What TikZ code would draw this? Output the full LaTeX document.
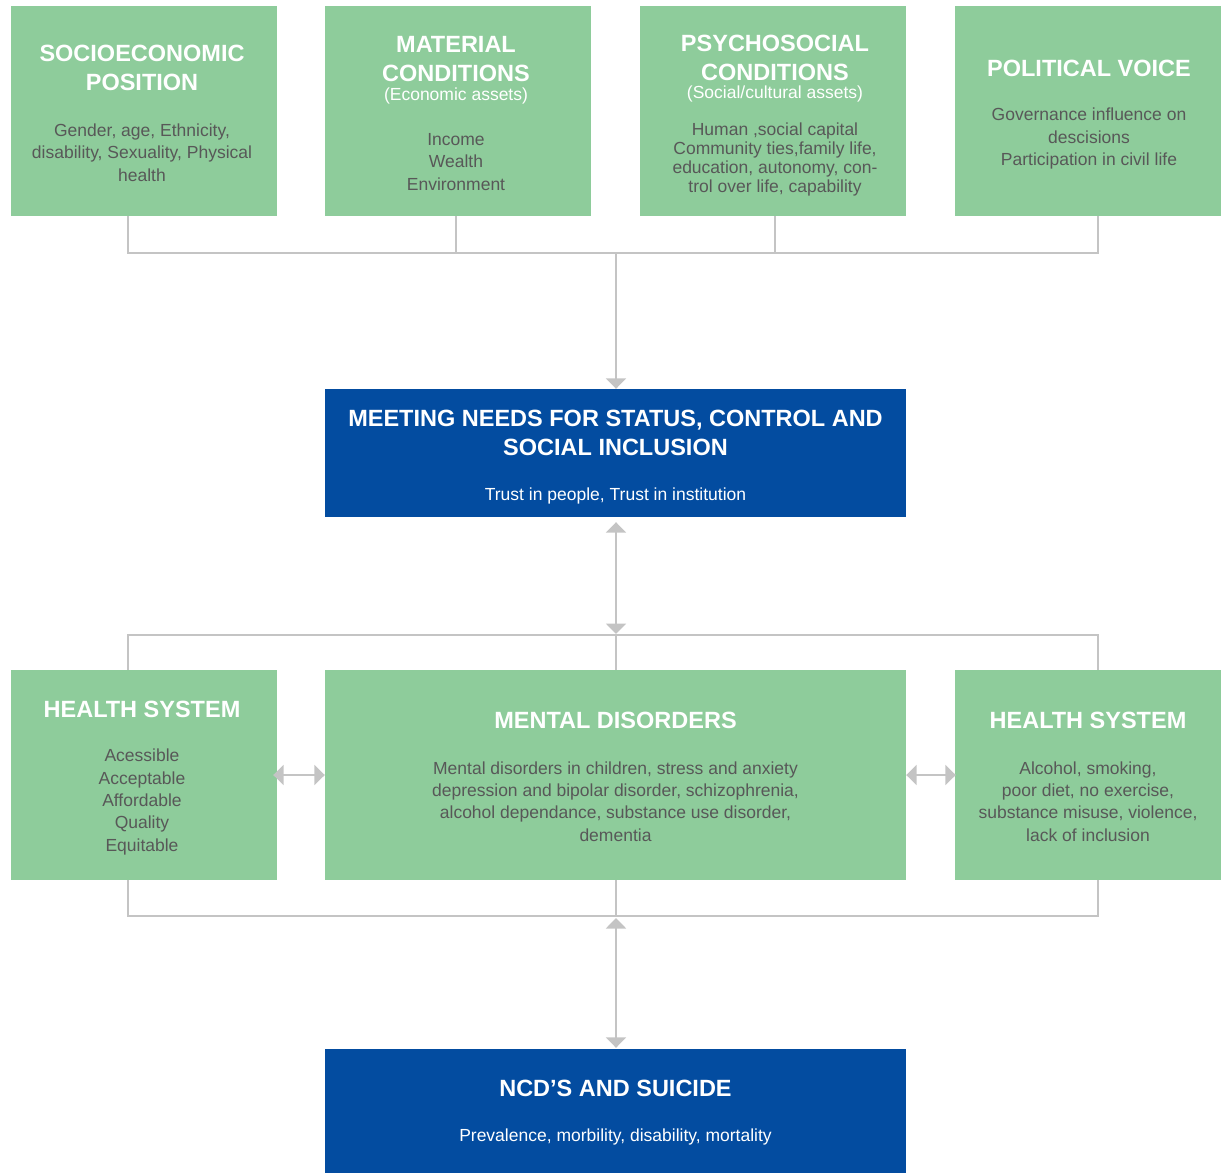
\documentclass[tikz,border=0pt]{standalone}
\usepackage{fontspec}
\setmainfont{Liberation Sans}
\usetikzlibrary{arrows.meta}
\definecolor{gfill}{RGB}{142,204,155}
\definecolor{bfill}{RGB}{3,76,160}
\definecolor{lgray}{RGB}{196,196,196}
\definecolor{tgray}{RGB}{88,88,88}
\begin{document}
\begin{tikzpicture}[x=1pt,y=-1pt,
 gbox/.style={fill=gfill, draw=none, minimum width=266pt, minimum height=210pt, inner sep=0pt},
 bbox/.style={fill=bfill, draw=none, minimum width=581pt, inner sep=0pt},
 ttl/.style={text=white, font=\bfseries\fontsize{23.5}{29}\selectfont, align=center, inner sep=0pt},
 sub/.style={text=white, font=\fontsize{17.5}{21}\selectfont, align=center, inner sep=0pt},
 bdy/.style={text=tgray, font=\fontsize{17.5}{22.4}\selectfont, align=center, inner sep=0pt},
 wbdy/.style={bdy, text=white},
 conn/.style={draw=lgray, line width=2pt},
 tipa/.tip={Triangle[width=20pt,length=10.5pt]},
 arr/.style={conn, -tipa},
 darr/.style={conn, tipa-tipa},
]
\useasboundingbox (0,0) rectangle (1226,1173);

% top row boxes
\node[gbox] (b1) at (144,111) {};
\node[gbox] (b2) at (458,111) {};
\node[gbox] (b3) at (773,111) {};
\node[gbox] (b4) at (1088,111) {};

\node[ttl] (b1t) at (142,67.5) {SOCIOECONOMIC\\POSITION};
\node[bdy] (b1b) at (142,152.5) {Gender, age, Ethnicity,\\disability, Sexuality, Physical\\health};

\node[ttl] (b2t) at (456,59) {MATERIAL\\CONDITIONS};
\node[sub] (b2s) at (456,95.5) {(Economic assets)};
\node[bdy] (b2b) at (456,162) {Income\\Wealth\\Environment};

\node[ttl] (b3t) at (775,57.5) {PSYCHOSOCIAL\\CONDITIONS};
\node[sub] (b3s) at (775,93.5) {(Social/cultural assets)};
\node[bdy, font=\fontsize{17.5}{18.7}\selectfont] (b3b) at (775,159.5) {Human ,social capital\\Community ties,family life,\\education, autonomy, con-\\trol over life, capability};

\node[ttl] (b4t) at (1089,68) {POLITICAL VOICE};
\node[bdy] (b4b) at (1089,138.5) {Governance influence on\\descisions\\Participation in civil life};

% first blue box
\node[bbox, minimum height=128pt] (m1) at (615.5,453) {};
\node[ttl] (m1t) at (615.5,432.5) {MEETING NEEDS FOR STATUS, CONTROL AND\\SOCIAL INCLUSION};
\node[wbdy] (m1b) at (615.5,496) {Trust in people, Trust in institution};

% middle row
\node[gbox] (c1) at (144,775) {};
\node[bbox, fill=gfill, minimum height=210pt] (c2) at (615.5,775) {};
\node[gbox] (c3) at (1088,775) {};

\node[ttl] (c1t) at (142,709) {HEALTH SYSTEM};
\node[bdy] (c1b) at (142,802) {Acessible\\Acceptable\\Affordable\\Quality\\Equitable};

\node[ttl] (c2t) at (615.5,720) {MENTAL DISORDERS};
\node[bdy] (c2b) at (615.5,801.5) {Mental disorders in children, stress and anxiety\\depression and bipolar disorder, schizophrenia,\\alcohol dependance, substance use disorder,\\dementia};

\node[ttl] (c3t) at (1088,720) {HEALTH SYSTEM};
\node[bdy] (c3b) at (1088,801.5) {Alcohol, smoking,\\poor diet, no exercise,\\substance misuse, violence,\\lack of inclusion};

% bottom blue box
\node[bbox, minimum height=124pt] (m2) at (615.5,1111) {};
\node[ttl] (m2t) at (615.5,1088) {NCD'S AND SUICIDE};
\node[wbdy] (m2b) at (615.5,1137) {Prevalence, morbility, disability, mortality};

% junction coordinates
\coordinate (j1) at (128,253);
\coordinate (j2) at (456,253);
\coordinate (j3) at (775,253);
\coordinate (j4) at (1098,253);
\coordinate (jt) at (616,253);
\coordinate (k1) at (128,635);
\coordinate (km) at (616,635);
\coordinate (k3) at (1098,635);
\coordinate (l1) at (128,916);
\coordinate (lm) at (616,916);
\coordinate (l3) at (1098,916);

% top connectors
\draw[conn] (b1.south -| j1) -- (j1) -- (j4) -- (b4.south -| j4);
\draw[conn] (b2.south -| j2) -- (j2);
\draw[conn] (b3.south -| j3) -- (j3);
\draw[arr] (jt) -- (m1.north -| jt);

% middle connectors
\draw[darr] ([yshift=-5pt]m1.south -| km) -- ([yshift=1pt]km);
\draw[conn] (c1.north -| k1) -- (k1) -- (k3) -- (c3.north -| k3);
\draw[conn] (km) -- (c2.north -| km);
\draw[darr] ([xshift=-4pt]c1.east) -- (c2.west);
\draw[darr] (c2.east) -- ([xshift=1pt]c3.west);

% bottom connectors
\draw[conn] (c1.south -| l1) -- (l1) -- (l3) -- (c3.south -| l3);
\draw[conn] (c2.south -| lm) -- (lm);
\draw[darr] ([yshift=-2pt]lm) -- ([yshift=1pt]m2.north -| lm);
\end{tikzpicture}
\end{document}
